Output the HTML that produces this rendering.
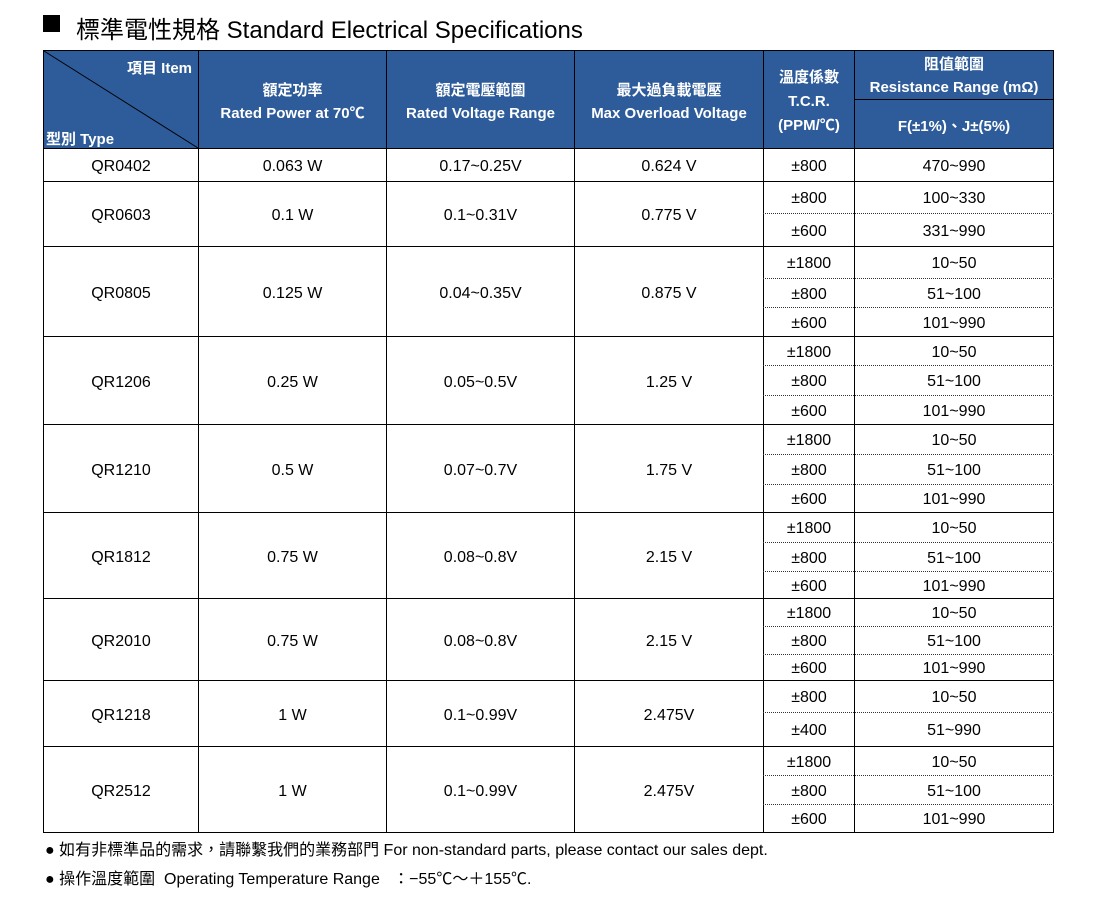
<!DOCTYPE html>
<html><head><meta charset="utf-8"><style>
body{margin:0;width:1115px;height:912px;background:#fff;position:relative;font-family:"Liberation Sans","Noto Sans CJK TC",sans-serif;color:#000;overflow:hidden}
.c{position:absolute;box-sizing:border-box;display:flex;align-items:center;justify-content:center;text-align:center;font-size:16px;line-height:1.2;padding-top:4px}
.b{border:1px solid #000}
.h{background:#2e5c9a;color:#fff;font-weight:bold;font-size:15px;border:1px solid #000;line-height:23px}
.s{position:absolute;left:763px;width:291px;height:0;border-top:1px dotted #333}
</style></head><body>
<div style="position:absolute;left:43px;top:15px;width:17px;height:17px;background:#000"></div>
<div style="position:absolute;left:76px;top:10px;font-size:24px;">標準電性規格 Standard Electrical Specifications</div>

<div class="c h" style="left:43px;top:50px;width:156px;height:99px"></div>
<svg style="position:absolute;left:43px;top:50px" width="156" height="99"><line x1="1" y1="1" x2="155" y2="98" stroke="#000" stroke-width="1"/></svg>
<div style="position:absolute;left:127px;top:57px;color:#fff;font-weight:bold;font-size:15px">項目 Item</div>
<div style="position:absolute;left:46px;top:128px;color:#fff;font-weight:bold;font-size:15px">型別 Type</div>
<div class="c h" style="left:198px;top:50px;width:189px;height:99px"><div>額定功率<br>Rated Power at 70℃</div></div>
<div class="c h" style="left:386px;top:50px;width:189px;height:99px"><div>額定電壓範圍<br>Rated Voltage Range</div></div>
<div class="c h" style="left:574px;top:50px;width:190px;height:99px"><div>最大過負載電壓<br>Max Overload Voltage</div></div>
<div class="c h" style="left:763px;top:50px;width:92px;height:99px;line-height:24px"><div>溫度係數<br>T.C.R.<br>(PPM/℃)</div></div>
<div class="c h" style="left:854px;top:50px;width:200px;height:50px;line-height:23px;padding-top:2px"><div>阻值範圍<br>Resistance Range (mΩ)</div></div>
<div class="c h" style="left:854px;top:99px;width:200px;height:50px">F(±1%)、J±(5%)</div>

<div class="c b" style="left:43px;top:148px;width:156px;height:34px">QR0402</div>
<div class="c b" style="left:198px;top:148px;width:189px;height:34px">0.063 W</div>
<div class="c b" style="left:386px;top:148px;width:189px;height:34px">0.17~0.25V</div>
<div class="c b" style="left:574px;top:148px;width:190px;height:34px">0.624 V</div>
<div class="c b" style="left:763px;top:148px;width:92px;height:34px">±800</div>
<div class="c b" style="left:854px;top:148px;width:200px;height:34px">470~990</div>

<div class="c b" style="left:43px;top:181px;width:156px;height:66px">QR0603</div>
<div class="c b" style="left:198px;top:181px;width:189px;height:66px">0.1 W</div>
<div class="c b" style="left:386px;top:181px;width:189px;height:66px">0.1~0.31V</div>
<div class="c b" style="left:574px;top:181px;width:190px;height:66px">0.775 V</div>
<div class="c b" style="left:763px;top:181px;width:92px;height:66px"></div>
<div class="c b" style="left:854px;top:181px;width:200px;height:66px"></div>
<div class="c" style="left:763px;top:181px;width:92px;height:32px">±800</div><div class="c" style="left:854px;top:181px;width:200px;height:32px">100~330</div>
<div class="s" style="top:213px"></div>
<div class="c" style="left:763px;top:213px;width:92px;height:33px">±600</div><div class="c" style="left:854px;top:213px;width:200px;height:33px">331~990</div>

<div class="c b" style="left:43px;top:246px;width:156px;height:91px">QR0805</div>
<div class="c b" style="left:198px;top:246px;width:189px;height:91px">0.125 W</div>
<div class="c b" style="left:386px;top:246px;width:189px;height:91px">0.04~0.35V</div>
<div class="c b" style="left:574px;top:246px;width:190px;height:91px">0.875 V</div>
<div class="c b" style="left:763px;top:246px;width:92px;height:91px"></div>
<div class="c b" style="left:854px;top:246px;width:200px;height:91px"></div>
<div class="c" style="left:763px;top:246px;width:92px;height:32px">±1800</div><div class="c" style="left:854px;top:246px;width:200px;height:32px">10~50</div>
<div class="s" style="top:278px"></div>
<div class="c" style="left:763px;top:278px;width:92px;height:29px">±800</div><div class="c" style="left:854px;top:278px;width:200px;height:29px">51~100</div>
<div class="s" style="top:307px"></div>
<div class="c" style="left:763px;top:307px;width:92px;height:29px">±600</div><div class="c" style="left:854px;top:307px;width:200px;height:29px">101~990</div>

<div class="c b" style="left:43px;top:336px;width:156px;height:89px">QR1206</div>
<div class="c b" style="left:198px;top:336px;width:189px;height:89px">0.25 W</div>
<div class="c b" style="left:386px;top:336px;width:189px;height:89px">0.05~0.5V</div>
<div class="c b" style="left:574px;top:336px;width:190px;height:89px">1.25 V</div>
<div class="c b" style="left:763px;top:336px;width:92px;height:89px"></div>
<div class="c b" style="left:854px;top:336px;width:200px;height:89px"></div>
<div class="c" style="left:763px;top:336px;width:92px;height:29px">±1800</div><div class="c" style="left:854px;top:336px;width:200px;height:29px">10~50</div>
<div class="s" style="top:365px"></div>
<div class="c" style="left:763px;top:365px;width:92px;height:30px">±800</div><div class="c" style="left:854px;top:365px;width:200px;height:30px">51~100</div>
<div class="s" style="top:395px"></div>
<div class="c" style="left:763px;top:395px;width:92px;height:29px">±600</div><div class="c" style="left:854px;top:395px;width:200px;height:29px">101~990</div>

<div class="c b" style="left:43px;top:424px;width:156px;height:89px">QR1210</div>
<div class="c b" style="left:198px;top:424px;width:189px;height:89px">0.5 W</div>
<div class="c b" style="left:386px;top:424px;width:189px;height:89px">0.07~0.7V</div>
<div class="c b" style="left:574px;top:424px;width:190px;height:89px">1.75 V</div>
<div class="c b" style="left:763px;top:424px;width:92px;height:89px"></div>
<div class="c b" style="left:854px;top:424px;width:200px;height:89px"></div>
<div class="c" style="left:763px;top:424px;width:92px;height:30px">±1800</div><div class="c" style="left:854px;top:424px;width:200px;height:30px">10~50</div>
<div class="s" style="top:454px"></div>
<div class="c" style="left:763px;top:454px;width:92px;height:30px">±800</div><div class="c" style="left:854px;top:454px;width:200px;height:30px">51~100</div>
<div class="s" style="top:484px"></div>
<div class="c" style="left:763px;top:484px;width:92px;height:28px">±600</div><div class="c" style="left:854px;top:484px;width:200px;height:28px">101~990</div>

<div class="c b" style="left:43px;top:512px;width:156px;height:87px">QR1812</div>
<div class="c b" style="left:198px;top:512px;width:189px;height:87px">0.75 W</div>
<div class="c b" style="left:386px;top:512px;width:189px;height:87px">0.08~0.8V</div>
<div class="c b" style="left:574px;top:512px;width:190px;height:87px">2.15 V</div>
<div class="c b" style="left:763px;top:512px;width:92px;height:87px"></div>
<div class="c b" style="left:854px;top:512px;width:200px;height:87px"></div>
<div class="c" style="left:763px;top:512px;width:92px;height:30px">±1800</div><div class="c" style="left:854px;top:512px;width:200px;height:30px">10~50</div>
<div class="s" style="top:542px"></div>
<div class="c" style="left:763px;top:542px;width:92px;height:29px">±800</div><div class="c" style="left:854px;top:542px;width:200px;height:29px">51~100</div>
<div class="s" style="top:571px"></div>
<div class="c" style="left:763px;top:571px;width:92px;height:27px">±600</div><div class="c" style="left:854px;top:571px;width:200px;height:27px">101~990</div>

<div class="c b" style="left:43px;top:598px;width:156px;height:83px">QR2010</div>
<div class="c b" style="left:198px;top:598px;width:189px;height:83px">0.75 W</div>
<div class="c b" style="left:386px;top:598px;width:189px;height:83px">0.08~0.8V</div>
<div class="c b" style="left:574px;top:598px;width:190px;height:83px">2.15 V</div>
<div class="c b" style="left:763px;top:598px;width:92px;height:83px"></div>
<div class="c b" style="left:854px;top:598px;width:200px;height:83px"></div>
<div class="c" style="left:763px;top:598px;width:92px;height:28px">±1800</div><div class="c" style="left:854px;top:598px;width:200px;height:28px">10~50</div>
<div class="s" style="top:626px"></div>
<div class="c" style="left:763px;top:626px;width:92px;height:28px">±800</div><div class="c" style="left:854px;top:626px;width:200px;height:28px">51~100</div>
<div class="s" style="top:654px"></div>
<div class="c" style="left:763px;top:654px;width:92px;height:26px">±600</div><div class="c" style="left:854px;top:654px;width:200px;height:26px">101~990</div>

<div class="c b" style="left:43px;top:680px;width:156px;height:67px">QR1218</div>
<div class="c b" style="left:198px;top:680px;width:189px;height:67px">1 W</div>
<div class="c b" style="left:386px;top:680px;width:189px;height:67px">0.1~0.99V</div>
<div class="c b" style="left:574px;top:680px;width:190px;height:67px">2.475V</div>
<div class="c b" style="left:763px;top:680px;width:92px;height:67px"></div>
<div class="c b" style="left:854px;top:680px;width:200px;height:67px"></div>
<div class="c" style="left:763px;top:680px;width:92px;height:32px">±800</div><div class="c" style="left:854px;top:680px;width:200px;height:32px">10~50</div>
<div class="s" style="top:712px"></div>
<div class="c" style="left:763px;top:712px;width:92px;height:34px">±400</div><div class="c" style="left:854px;top:712px;width:200px;height:34px">51~990</div>

<div class="c b" style="left:43px;top:746px;width:156px;height:87px">QR2512</div>
<div class="c b" style="left:198px;top:746px;width:189px;height:87px">1 W</div>
<div class="c b" style="left:386px;top:746px;width:189px;height:87px">0.1~0.99V</div>
<div class="c b" style="left:574px;top:746px;width:190px;height:87px">2.475V</div>
<div class="c b" style="left:763px;top:746px;width:92px;height:87px"></div>
<div class="c b" style="left:854px;top:746px;width:200px;height:87px"></div>
<div class="c" style="left:763px;top:746px;width:92px;height:29px">±1800</div><div class="c" style="left:854px;top:746px;width:200px;height:29px">10~50</div>
<div class="s" style="top:775px"></div>
<div class="c" style="left:763px;top:775px;width:92px;height:29px">±800</div><div class="c" style="left:854px;top:775px;width:200px;height:29px">51~100</div>
<div class="s" style="top:804px"></div>
<div class="c" style="left:763px;top:804px;width:92px;height:28px">±600</div><div class="c" style="left:854px;top:804px;width:200px;height:28px">101~990</div>

<div style="position:absolute;left:45px;top:836px;font-size:16px;white-space:nowrap">● 如有非標準品的需求，請聯繫我們的業務部門 For non-standard parts, please contact our sales dept.</div>
<div style="position:absolute;left:45px;top:865px;font-size:16px;white-space:nowrap">● 操作溫度範圍&nbsp; Operating Temperature Range &nbsp; ：−55℃～＋155℃.</div>
</body></html>
